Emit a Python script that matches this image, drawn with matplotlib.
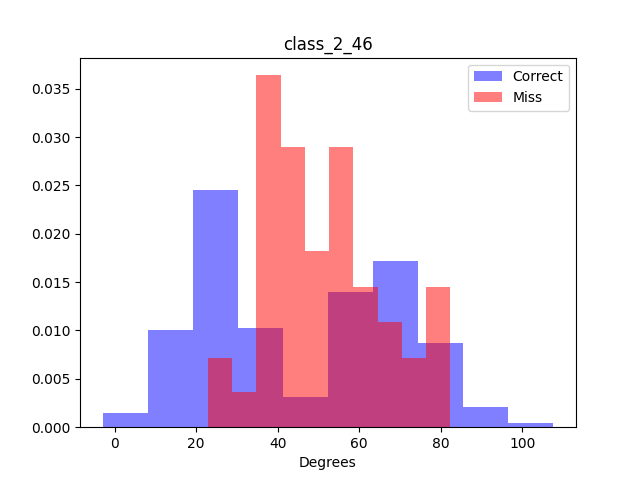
import numpy as np
import matplotlib
matplotlib.use("Agg")
import matplotlib.pyplot as plt

blue_edges = np.linspace(-2.95, 107.6, 11)
blue_vals = [0.0015, 0.0100, 0.0245, 0.0103, 0.0031, 0.0140, 0.0172, 0.0087, 0.0021, 0.0004]
red_edges = np.linspace(22.85, 82.3, 11)
red_vals = [0.0072, 0.0036, 0.0364, 0.0290, 0.0182, 0.0290, 0.0145, 0.0109, 0.0072, 0.0145]

fig, ax = plt.subplots(figsize=(6.4, 4.8), dpi=100)
ax.bar(blue_edges[:-1], blue_vals, width=np.diff(blue_edges), align='edge', color='blue', alpha=0.5, label='Correct')
ax.bar(red_edges[:-1], red_vals, width=np.diff(red_edges), align='edge', color='red', alpha=0.5, label='Miss')
ax.set_title('class_2_46')
ax.set_xlabel('Degrees')
ax.legend(loc='upper right')
fig.savefig('out.png')
